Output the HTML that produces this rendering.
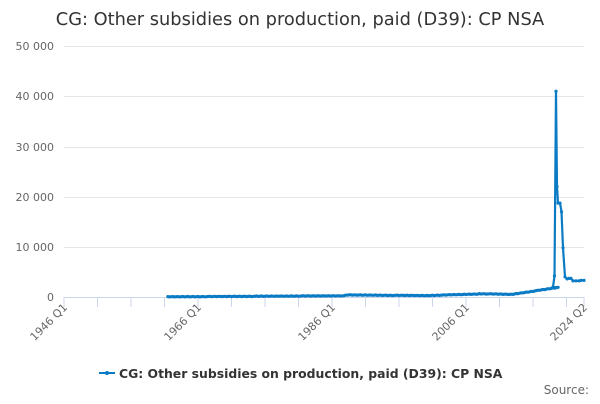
<!DOCTYPE html>
<html><head><meta charset="utf-8"><style>
body{margin:0;background:#fff;font-family:"DejaVu Sans",sans-serif;}
</style></head><body>
<svg width="600" height="400" xmlns="http://www.w3.org/2000/svg" font-family="DejaVu Sans, sans-serif">
<text x="300" y="25" text-anchor="middle" font-size="17.8" fill="#333">CG: Other subsidies on production, paid (D39): CP NSA</text>
<g stroke="#e6e6e6" stroke-width="1">
<line x1="64" x2="584" y1="46.5" y2="46.5"/><line x1="64" x2="584" y1="96.5" y2="96.5"/>
<line x1="64" x2="584" y1="147.5" y2="147.5"/><line x1="64" x2="584" y1="197.5" y2="197.5"/>
<line x1="64" x2="584" y1="247.5" y2="247.5"/>
</g>
<g font-size="11" fill="#666" text-anchor="end">
<text x="54" y="50">50 000</text><text x="54" y="100">40 000</text><text x="54" y="151">30 000</text>
<text x="54" y="201">20 000</text><text x="54" y="251">10 000</text><text x="54" y="301">0</text>
</g>
<line x1="64" x2="584" y1="297.5" y2="297.5" stroke="#ccd6eb"/>
<g id="ticks" stroke="#ccd6eb"></g>
<g font-size="11" fill="#666" text-anchor="end">
<text transform="translate(68,308) rotate(-45)">1946 Q1</text>
<text transform="translate(202,308) rotate(-45)">1966 Q1</text>
<text transform="translate(336,308) rotate(-45)">1986 Q1</text>
<text transform="translate(470,308) rotate(-45)">2006 Q1</text>
<text transform="translate(588,308) rotate(-45)">2024 Q2</text>
</g>
<polyline id="ln" fill="none" stroke="#0a7bc4" stroke-width="2.2" stroke-linejoin="round"/>
<g id="mk" fill="#0a7bc4"></g>
<line x1="99" x2="115" y1="373" y2="373" stroke="#0a7bc4" stroke-width="2"/>
<circle cx="107" cy="373" r="2" fill="#0a7bc4"/>
<text x="119" y="378" font-size="12.4" font-weight="bold" fill="#333">CG: Other subsidies on production, paid (D39): CP NSA</text>
<text x="589" y="394" font-size="12" fill="#666" text-anchor="end">Source:</text>
</svg>
<script>
var X=function(y){return 64+(y-1946)*6.7};var Y=function(v){return 297-v*251/50000};
var t=document.getElementById('ticks'),s='';
for(var y=1946;y<2024;y+=5){var x=X(y);s+='<line x1="'+x+'" x2="'+x+'" y1="297" y2="307"/>';}
s+='<line x1="584" x2="584" y1="297" y2="307"/>';t.innerHTML=s;
var pts=[];
for(var q=1961.5;q<2020;q+=0.25){var v;
 if(q<1988)v=20+(q-1960)*8;else if(q<2000)v=400-(q-1988)*10;else if(q<2008)v=280+(q-2000)*40;
 else if(q<2013)v=650-(q-2008)*30;else v=550+(q-2013)*200;
 v+=((q*37)%7-3)*15;pts.push([X(q),Y(v)]);}
var tail=[[553,2000],[554.5,4200],[556,41000],[557,22000],[558,18700],[560,18700],[561.5,17000],[563,9800],[565,4000],[567,3600],[569,3700],[571,3700],[573,3200],[576,3200],[579,3200],[581,3300],[584,3300]];
tail.forEach(function(p){pts.push([p[0],Y(p[1])]);});
document.getElementById('ln').setAttribute('points',pts.map(function(p){return p[0].toFixed(1)+','+p[1].toFixed(1)}).join(' '));
document.getElementById('mk').innerHTML=pts.map(function(p){return '<circle cx="'+p[0].toFixed(1)+'" cy="'+p[1].toFixed(1)+'" r="1.6"/>'}).join('');
</script>
</body></html>
